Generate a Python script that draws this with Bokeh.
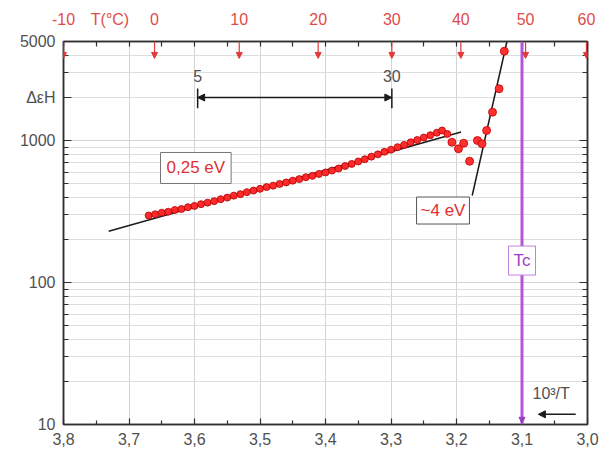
from bokeh.plotting import figure
from bokeh.models import (Range1d, FixedTicker, CustomJSTickFormatter, LinearAxis, LogAxis,
                          Label, Arrow, NormalHead, Span)
from bokeh.embed import file_html
from bokeh.resources import INLINE

# ---------------- data ----------------
main_x = [3.67, 3.66, 3.65, 3.64, 3.63, 3.62, 3.61, 3.60, 3.59, 3.58, 3.57, 3.56, 3.55, 3.54,
          3.53, 3.52, 3.51, 3.50, 3.49, 3.48, 3.47, 3.46, 3.45, 3.44, 3.43, 3.42, 3.41, 3.40,
          3.39, 3.38, 3.37, 3.36, 3.35, 3.34, 3.33, 3.32, 3.31, 3.30, 3.29, 3.28, 3.27, 3.26,
          3.25, 3.24, 3.23, 3.222, 3.214]
main_y = [297, 303, 311, 316, 325, 330, 340, 347, 357, 366, 375, 387, 397, 410,
          420, 434, 445, 458, 471, 482, 496, 508, 523, 536, 553, 565, 583, 597,
          616, 637, 663, 686, 714, 740, 772, 801, 835, 864, 900, 934, 974, 1011,
          1052, 1093, 1138, 1180, 1115]
trans_x = [3.207, 3.197, 3.189, 3.180, 3.168, 3.161]
trans_y = [975, 877, 960, 717, 1003, 951]
steep_x = [3.154, 3.145, 3.135, 3.127]
steep_y = [1180, 1588, 2323, 4272]
fit1_x = [3.731, 3.193]
fit1_y = [230, 1150]
fit2_x = [3.176, 3.123]
fit2_y = [411, 5000]
x_ticks = [3.0, 3.1, 3.2, 3.3, 3.4, 3.5, 3.6, 3.7, 3.8]
x_minor = [3.05, 3.15, 3.25, 3.35, 3.45, 3.55, 3.65, 3.75]
top_T = [-10, 0, 10, 20, 30, 40, 50, 60]
top_title = "T(\u00b0C)"
top_title_pos = 3.729
y_ticks = [10, 100, 1000, 5000]
y_minor = [20, 30, 40, 50, 60, 70, 80, 90, 200, 300, 400, 500, 600, 700, 800, 900,
           2000, 3000, 4000]
y_title = "\u0394\u03b5H"
y_title_pos = 2000
range_T = [5, 30]
Tc_inv = 3.1

X_LO, X_HI = 3.0, 3.8
top_pos = [min(max(1000.0 / (t + 273.15), X_LO), X_HI) for t in top_T]

FONT = "Liberation Sans"
GRAY = "#505050"
RED_LBL = "#e24a4a"
AX = "#303030"

p = figure(width=602, height=454, output_backend="svg", toolbar_location=None,
           x_range=Range1d(X_HI, X_LO), y_range=Range1d(10, 5000), y_axis_type="log",
           min_border_left=63, min_border_right=15, min_border_top=41, min_border_bottom=30,
           background_fill_color="white", border_fill_color="white")
p.outline_line_color = AX
p.outline_line_width = 1.5

# bottom axis
xa = p.xaxis[0]
xa.ticker = FixedTicker(ticks=x_ticks, minor_ticks=x_minor)
xa.formatter = CustomJSTickFormatter(code="return tick.toFixed(1).replace('.', ',');")
# left axis (its title is shown as an extra tick label near the top)
ya = p.yaxis[0]
ya.ticker = FixedTicker(ticks=y_ticks + [y_title_pos], minor_ticks=y_minor)
ya.formatter = CustomJSTickFormatter(
    args=dict(tpos=y_title_pos, ttl=y_title),
    code="if (Math.abs(tick - tpos) < 1e-6) { return ttl; } return tick.toFixed(0);")

for ax in (xa, ya):
    ax.axis_line_color = AX
    ax.axis_line_width = 1.5
    ax.major_tick_line_color = AX
    ax.minor_tick_line_color = AX
    ax.major_tick_line_width = 1.2
    ax.minor_tick_line_width = 1.2
    ax.major_tick_out = 0
    ax.minor_tick_out = 0
    ax.major_label_text_font = FONT
    ax.major_label_text_font_size = "16px"
    ax.major_label_text_color = GRAY
xa.major_tick_in = 6
xa.minor_tick_in = 4
xa.major_label_standoff = 8
ya.major_tick_in = 8
ya.minor_tick_in = 5
ya.major_label_standoff = 8

# right axis (ticks only)
ra = LogAxis(ticker=FixedTicker(ticks=y_ticks, minor_ticks=y_minor),
             formatter=CustomJSTickFormatter(code="return '';"),
             major_label_standoff=0,
             axis_line_color=AX, axis_line_width=1.5,
             major_tick_in=8, major_tick_out=0, minor_tick_in=5, minor_tick_out=0,
             major_tick_line_color=AX, minor_tick_line_color=AX,
             major_tick_line_width=1.2, minor_tick_line_width=1.2)
p.add_layout(ra, "right")

# top axis: temperature in deg C (plus its title as an extra tick label)
ta = LinearAxis(ticker=FixedTicker(ticks=top_pos + [top_title_pos], minor_ticks=x_ticks + x_minor),
                formatter=CustomJSTickFormatter(
                    args=dict(tpos=top_title_pos, ttl=top_title),
                    code="if (Math.abs(tick - tpos) < 1e-6) { return ttl; } "
                         "return Math.round(1000/tick - 273.15).toFixed(0);"),
                axis_line_color=AX, axis_line_width=1.5,
                major_tick_in=0, major_tick_out=0, minor_tick_in=5, minor_tick_out=0,
                minor_tick_line_color=AX, minor_tick_line_width=1.2,
                major_label_text_font=FONT, major_label_text_font_size="16px",
                major_label_text_color=RED_LBL, major_label_standoff=14)
p.add_layout(ta, "above")

# grids
p.xgrid.grid_line_color = "#d4d4d4"
p.xgrid.grid_line_width = 1
p.ygrid.ticker = FixedTicker(ticks=y_ticks, minor_ticks=y_minor)
p.ygrid.grid_line_color = "#d4d4d4"
p.ygrid.minor_grid_line_color = "#dedede"
p.ygrid.grid_line_width = 1

# fit lines
p.line(fit1_x, fit1_y, line_color="#1a1a1a", line_width=1.5)
p.line(fit2_x, fit2_y, line_color="#1a1a1a", line_width=1.5)

# data
p.scatter(main_x, main_y, size=7, fill_color="#ff2a2a", line_color="#b00000", line_width=0.8)
p.scatter(trans_x, trans_y, size=8, fill_color="#ff3030", line_color="#c00000", line_width=0.8)
p.scatter(steep_x, steep_y, size=8, fill_color="#ff3030", line_color="#c00000", line_width=0.8)

# Tc line
p.add_layout(Span(location=Tc_inv, dimension="height", line_color="#b455d8", line_width=3))
p.add_layout(Arrow(x_start=Tc_inv, y_start=12.5, x_end=Tc_inv, y_end=10.2,
                   line_color="#b455d8", line_width=1,
                   end=NormalHead(size=6, fill_color="#9a3cc0", line_color="#9a3cc0")))

# red arrows at top temperature positions
for xp in top_pos:
    p.add_layout(Arrow(x_start=xp, y_start=5000, x_end=xp, y_end=3800,
                       line_color="#e03a3a", line_width=1.2,
                       end=NormalHead(size=6, fill_color="#e03a3a", line_color="#e03a3a")))

# range 5..30 C
r_pos = [1000.0 / (t + 273.15) for t in range_T]
p.add_layout(Arrow(x_start=r_pos[0], y_start=2014, x_end=r_pos[1], y_end=2014,
                   line_color="#1a1a1a", line_width=1.5,
                   start=NormalHead(size=7, fill_color="#1a1a1a", line_color="#1a1a1a"),
                   end=NormalHead(size=7, fill_color="#1a1a1a", line_color="#1a1a1a")))
p.segment(x0=r_pos, y0=[1690, 1690], x1=r_pos, y1=[2330, 2330], line_color="#1a1a1a", line_width=1.5)
for xp, t in zip(r_pos, range_T):
    p.add_layout(Label(x=xp, y=2877, text=str(t), text_align="center", text_baseline="middle",
                       text_font=FONT, text_font_size="16px", text_color=GRAY))

# labels with boxes
p.add_layout(Label(x=3.598, y=642, text="0,25 eV", text_align="center", text_baseline="middle",
                   text_font=FONT, text_font_size="17px", text_color="#e03030",
                   background_fill_color="white", border_line_color="#777777",
                   border_line_width=1, padding=6))
p.add_layout(Label(x=3.2206, y=322, text="~4 eV", text_align="center", text_baseline="middle",
                   text_font=FONT, text_font_size="17px", text_color="#e03030",
                   background_fill_color="white", border_line_color="#555555",
                   border_line_width=1, padding=4))
p.add_layout(Label(x=Tc_inv, y=143, text="Tc", text_align="center", text_baseline="middle",
                   text_font=FONT, text_font_size="17px", text_color="#a040c8",
                   background_fill_color="white", border_line_color="#c080e0",
                   border_line_width=1, padding=5))

p.add_layout(Label(x=3.084, y=16.5, text="10\u00b3/T", text_align="left", text_baseline="middle",
                   text_font=FONT, text_font_size="16px", text_color=GRAY))
p.add_layout(Arrow(x_start=3.018, y_start=11.8, x_end=3.075, y_end=11.8,
                   line_color="#1a1a1a", line_width=1.5,
                   end=NormalHead(size=7, fill_color="#1a1a1a", line_color="#1a1a1a")))

open("out.html", "w").write(file_html(p, INLINE))
